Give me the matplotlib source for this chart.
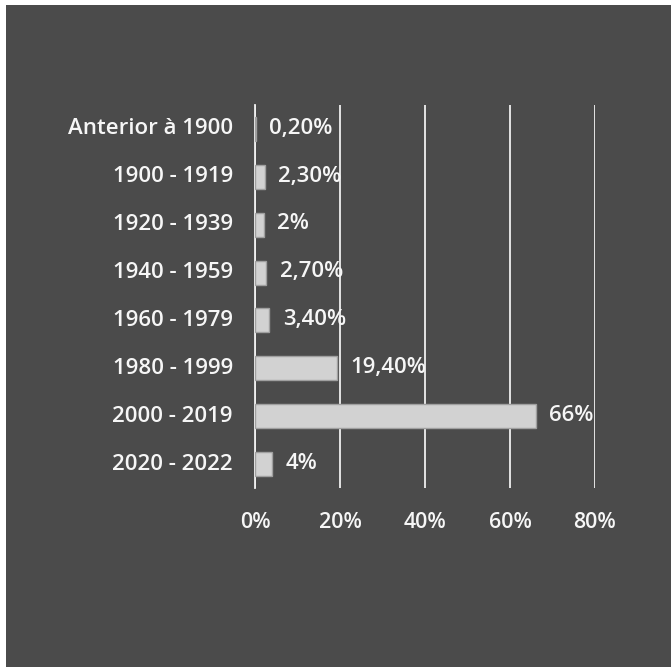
import matplotlib.pyplot as plt
from matplotlib.patches import Rectangle

categories = ['Anterior à 1900', '1900 - 1919', '1920 - 1939', '1940 - 1959',
              '1960 - 1979', '1980 - 1999', '2000 - 2019', '2020 - 2022']
values = [0.2, 2.3, 2, 2.7, 3.4, 19.4, 66, 4]
xticks = [0, 20, 40, 60, 80]


def pct_label(v):
    if float(v).is_integer():
        return f'{int(v)}%'
    return f'{v:.2f}%'.replace('.', ',')


plt.rcParams['font.family'] = ['Open Sans', 'DejaVu Sans']
FS = 16
TXT = '#f6f6f6'
WEIGHT = 'semibold'

fig = plt.figure(figsize=(6.71, 6.71), dpi=100, facecolor='white')
# dark backdrop, leaving a thin white strip on the left, top and bottom
backdrop = Rectangle((6 / 671, 4 / 671), 665 / 671, 662 / 671,
                     transform=fig.transFigure, facecolor='#4b4b4b',
                     edgecolor='none', zorder=-10)
fig.add_artist(backdrop)

ax = fig.add_axes([255 / 671, 1 - 488 / 671, 340 / 671, 383 / 671])
ax.set_zorder(1)
ax.set_facecolor('none')

y = list(range(len(categories)))
ax.barh(y, values, height=0.5, color='#d2d2d2', edgecolor='#a0a0a0',
        linewidth=1, zorder=3)
for yi, v in zip(y, values):
    ax.annotate(pct_label(v), (v, yi), xytext=(9.5, 0.5), textcoords='offset points',
                va='center', ha='left', color=TXT, fontsize=FS,
                fontweight=WEIGHT, zorder=4)

ax.set_xlim(0, 80)
ax.set_ylim(len(categories) - 0.5, -0.5)
ax.set_xticks(xticks)
ax.set_xticklabels([f'{t}%' for t in xticks], color=TXT, fontsize=FS - 0.6,
                   fontweight=WEIGHT)
ax.set_yticks(y)
ax.set_yticklabels(categories, color=TXT, fontsize=FS, fontweight=WEIGHT)
for lbl in ax.get_yticklabels():
    lbl.set_verticalalignment('center')
ax.tick_params(axis='both', length=0)
ax.tick_params(axis='x', pad=17)
ax.tick_params(axis='y', pad=16)

ax.grid(axis='x', color='#f0f0f0', linewidth=1.3, zorder=1)
ax.set_axisbelow(True)
for side in ['top', 'right', 'bottom']:
    ax.spines[side].set_visible(False)
ax.spines['left'].set_color('#f0f0f0')
ax.spines['left'].set_linewidth(1.3)

fig.savefig('out.png', dpi=100, facecolor=fig.get_facecolor())
